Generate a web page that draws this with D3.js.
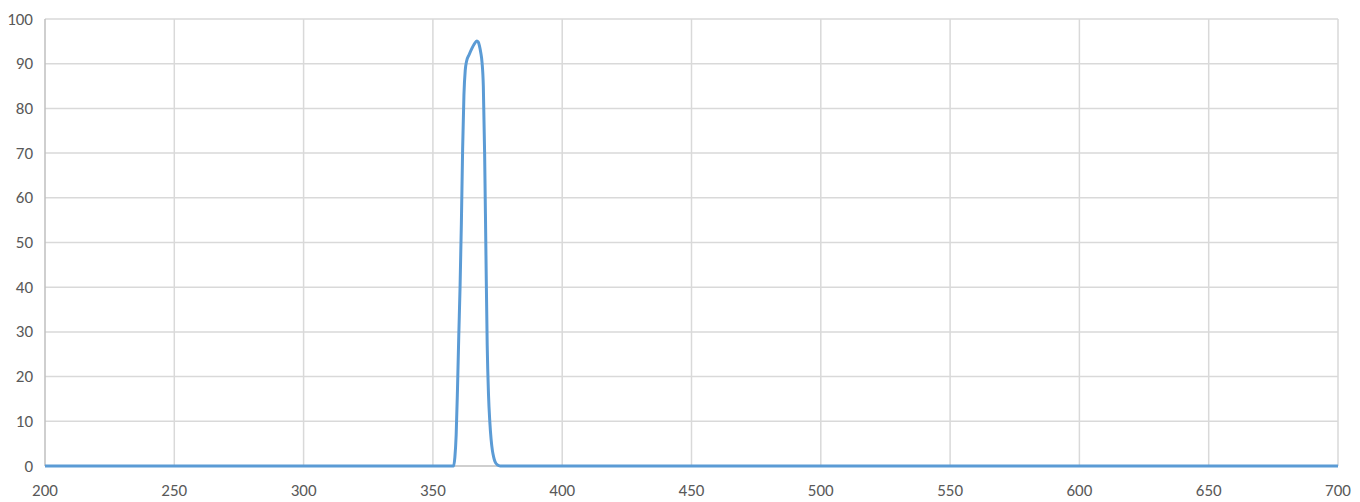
<!DOCTYPE html>
<html><head><meta charset="utf-8">
<script src="https://cdn.jsdelivr.net/npm/d3@7"></script>
<style>
html,body{margin:0;padding:0;background:#fff;}
text{font-family:Carlito,Calibri,"Liberation Sans",sans-serif;font-size:17px;fill:#595959;}
</style></head>
<body><svg id="c" width="1360" height="502"></svg>
<script>
const wavelengths = [200,300,350,357,358,358.5,359,359.5,360,360.5,361,361.5,362,362.5,363,364,365,366,367,367.5,368,368.5,369,369.5,370,370.5,371,371.5,372,372.5,373,373.5,374,375,376,400,500,600,700];
const transmission = [0,0,0,0,0,2,7,17,29,40,54,71,83,88.5,90.5,92,93.3,94.4,95.1,94.9,94,92.5,90.3,85,70,48,27,16,10,6,3.5,2,1,0.2,0,0,0,0,0];
const xTicks = [200,250,300,350,400,450,500,550,600,650,700];
const yTicks = [0,10,20,30,40,50,60,70,80,90,100];

const svg = d3.select("#c");
const L=45,R=1338,T=19,B=466;
const x = d3.scaleLinear().domain([200,700]).range([L,R]);
const y = d3.scaleLinear().domain([0,100]).range([B,T]);

const g = svg.append("g");
g.selectAll(".vg").data(xTicks.slice(1)).enter().append("line")
 .attr("x1",d=>x(d)).attr("x2",d=>x(d)).attr("y1",T).attr("y2",B)
 .attr("stroke","#d9d9d9").attr("stroke-width",1.5);
g.selectAll(".hg").data(yTicks.slice(1)).enter().append("line")
 .attr("x1",L).attr("x2",R).attr("y1",d=>y(d)).attr("y2",d=>y(d))
 .attr("stroke","#d9d9d9").attr("stroke-width",1.5);
g.append("line").attr("x1",L).attr("x2",L).attr("y1",T).attr("y2",B).attr("stroke","#bfbfbf").attr("stroke-width",1.5);
g.append("line").attr("x1",L).attr("x2",R).attr("y1",B).attr("y2",B).attr("stroke","#bfbfbf").attr("stroke-width",1.5);

g.selectAll(".yl").data(yTicks).enter().append("text")
 .attr("x",33).attr("y",d=>y(d)).attr("text-anchor","end").attr("dominant-baseline","central").text(d=>d);
g.selectAll(".xl").data(xTicks).enter().append("text")
 .attr("x",d=>x(d)).attr("y",490).attr("text-anchor","middle").attr("dominant-baseline","central").text(d=>d);

const data = wavelengths.map((w,i)=>[w,transmission[i]]);
g.append("path").datum(data)
 .attr("d",d3.line().x(d=>x(d[0])).y(d=>y(d[1])).curve(d3.curveMonotoneX))
 .attr("fill","none").attr("stroke","#5b9bd5").attr("stroke-width",3).attr("stroke-linejoin","round");
</script></body></html>
